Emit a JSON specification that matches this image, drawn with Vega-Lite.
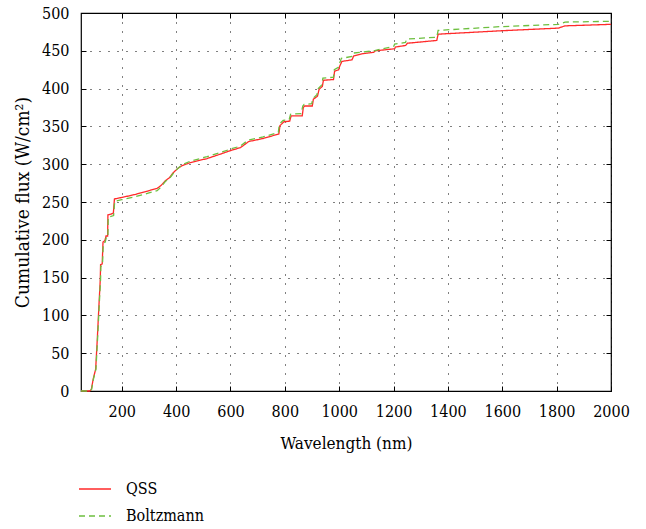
{
  "$schema": "https://vega.github.io/schema/vega-lite/v6.json",
  "width": 530,
  "height": 378,
  "autosize": "none",
  "padding": {"left": 81, "top": 13, "right": 35, "bottom": 138},
  "config": {
    "font": "DejaVu Serif Condensed",
    "view": {"stroke": "#000", "strokeWidth": 1.2},
    "axis": {
      "labelFont": "DejaVu Serif Condensed", "titleFont": "DejaVu Serif Condensed",
      "labelFontSize": 16, "titleFontSize": 17, "titleFontWeight": "normal",
      "labelColor": "#000", "titleColor": "#000",
      "domain": false, "tickColor": "#000", "tickSize": -5, "tickWidth": 1,
      "gridColor": "#000", "gridDash": [1, 8], "gridWidth": 1, "gridOpacity": 1
    },
    "legend": {
      "labelFont": "DejaVu Serif Condensed", "labelFontSize": 16, "labelColor": "#000"
    }
  },
  "data": {"values": [
    {"i":1,"s":"QSS","w":50,"f":0},{"i":2,"s":"QSS","w":82,"f":0},{"i":3,"s":"QSS","w":88,"f":2},{"i":4,"s":"QSS","w":95,"f":16},{"i":5,"s":"QSS","w":104,"f":29},{"i":6,"s":"QSS","w":110,"f":69},{"i":7,"s":"QSS","w":116,"f":113},{"i":8,"s":"QSS","w":121,"f":148},{"i":9,"s":"QSS","w":122,"f":167},{"i":10,"s":"QSS","w":128,"f":168},{"i":11,"s":"QSS","w":131,"f":197},{"i":12,"s":"QSS","w":138,"f":199},{"i":13,"s":"QSS","w":142,"f":205},{"i":14,"s":"QSS","w":148,"f":205},{"i":15,"s":"QSS","w":149,"f":233},{"i":16,"s":"QSS","w":169,"f":235},{"i":17,"s":"QSS","w":173,"f":254},{"i":18,"s":"QSS","w":200,"f":256},{"i":19,"s":"QSS","w":250,"f":260},{"i":20,"s":"QSS","w":300,"f":265},{"i":21,"s":"QSS","w":330,"f":268},{"i":22,"s":"QSS","w":345,"f":272},{"i":23,"s":"QSS","w":360,"f":278},{"i":24,"s":"QSS","w":375,"f":282},{"i":25,"s":"QSS","w":390,"f":289},{"i":26,"s":"QSS","w":405,"f":294},{"i":27,"s":"QSS","w":421,"f":298},{"i":28,"s":"QSS","w":452,"f":302},{"i":29,"s":"QSS","w":514,"f":307.5},{"i":30,"s":"QSS","w":560,"f":313},{"i":31,"s":"QSS","w":600,"f":318},{"i":32,"s":"QSS","w":637,"f":322},{"i":33,"s":"QSS","w":667,"f":330},{"i":34,"s":"QSS","w":720,"f":334},{"i":35,"s":"QSS","w":778,"f":340},{"i":36,"s":"QSS","w":782,"f":351},{"i":37,"s":"QSS","w":796,"f":356},{"i":38,"s":"QSS","w":818,"f":357},{"i":39,"s":"QSS","w":823,"f":364},{"i":40,"s":"QSS","w":864,"f":364},{"i":41,"s":"QSS","w":868,"f":375},{"i":42,"s":"QSS","w":873,"f":377},{"i":43,"s":"QSS","w":901,"f":377},{"i":44,"s":"QSS","w":905,"f":386},{"i":45,"s":"QSS","w":920,"f":390},{"i":46,"s":"QSS","w":926,"f":399},{"i":47,"s":"QSS","w":938,"f":403},{"i":48,"s":"QSS","w":942,"f":411},{"i":49,"s":"QSS","w":979,"f":412},{"i":50,"s":"QSS","w":983,"f":423},{"i":51,"s":"QSS","w":998,"f":425},{"i":52,"s":"QSS","w":1001,"f":429},{"i":53,"s":"QSS","w":1010,"f":436},{"i":54,"s":"QSS","w":1047,"f":438},{"i":55,"s":"QSS","w":1053,"f":443},{"i":56,"s":"QSS","w":1084,"f":446},{"i":57,"s":"QSS","w":1127,"f":448},{"i":58,"s":"QSS","w":1133,"f":450},{"i":59,"s":"QSS","w":1204,"f":452.7},{"i":60,"s":"QSS","w":1207,"f":455},{"i":61,"s":"QSS","w":1244,"f":457},{"i":62,"s":"QSS","w":1251,"f":460},{"i":63,"s":"QSS","w":1359,"f":463.7},{"i":64,"s":"QSS","w":1364,"f":472},{"i":65,"s":"QSS","w":1596,"f":476.5},{"i":66,"s":"QSS","w":1806,"f":480},{"i":67,"s":"QSS","w":1831,"f":483},{"i":68,"s":"QSS","w":2000,"f":485},
    {"i":101,"s":"Boltzmann","w":50,"f":0},{"i":102,"s":"Boltzmann","w":83,"f":0},{"i":103,"s":"Boltzmann","w":89,"f":2},{"i":104,"s":"Boltzmann","w":96,"f":16},{"i":105,"s":"Boltzmann","w":105,"f":29},{"i":106,"s":"Boltzmann","w":111,"f":69},{"i":107,"s":"Boltzmann","w":117,"f":113},{"i":108,"s":"Boltzmann","w":122,"f":148},{"i":109,"s":"Boltzmann","w":123,"f":165},{"i":110,"s":"Boltzmann","w":129,"f":166},{"i":111,"s":"Boltzmann","w":132,"f":195},{"i":112,"s":"Boltzmann","w":139,"f":197},{"i":113,"s":"Boltzmann","w":143,"f":203},{"i":114,"s":"Boltzmann","w":149,"f":203},{"i":115,"s":"Boltzmann","w":150,"f":230},{"i":116,"s":"Boltzmann","w":170,"f":232},{"i":117,"s":"Boltzmann","w":174,"f":251},{"i":118,"s":"Boltzmann","w":200,"f":253},{"i":119,"s":"Boltzmann","w":250,"f":257},{"i":120,"s":"Boltzmann","w":300,"f":262},{"i":121,"s":"Boltzmann","w":330,"f":265},{"i":122,"s":"Boltzmann","w":345,"f":270},{"i":123,"s":"Boltzmann","w":360,"f":277},{"i":124,"s":"Boltzmann","w":375,"f":281},{"i":125,"s":"Boltzmann","w":390,"f":288},{"i":126,"s":"Boltzmann","w":405,"f":294},{"i":127,"s":"Boltzmann","w":421,"f":299},{"i":128,"s":"Boltzmann","w":452,"f":304},{"i":129,"s":"Boltzmann","w":514,"f":310},{"i":130,"s":"Boltzmann","w":560,"f":315},{"i":131,"s":"Boltzmann","w":600,"f":320},{"i":132,"s":"Boltzmann","w":637,"f":324},{"i":133,"s":"Boltzmann","w":665,"f":332},{"i":134,"s":"Boltzmann","w":720,"f":336},{"i":135,"s":"Boltzmann","w":776,"f":342},{"i":136,"s":"Boltzmann","w":780,"f":353},{"i":137,"s":"Boltzmann","w":794,"f":358},{"i":138,"s":"Boltzmann","w":816,"f":359},{"i":139,"s":"Boltzmann","w":821,"f":366},{"i":140,"s":"Boltzmann","w":860,"f":367},{"i":141,"s":"Boltzmann","w":866,"f":377},{"i":142,"s":"Boltzmann","w":871,"f":379},{"i":143,"s":"Boltzmann","w":899,"f":380},{"i":144,"s":"Boltzmann","w":903,"f":387},{"i":145,"s":"Boltzmann","w":918,"f":392},{"i":146,"s":"Boltzmann","w":923,"f":400},{"i":147,"s":"Boltzmann","w":936,"f":405},{"i":148,"s":"Boltzmann","w":940,"f":414},{"i":149,"s":"Boltzmann","w":979,"f":415},{"i":150,"s":"Boltzmann","w":982,"f":425},{"i":151,"s":"Boltzmann","w":997,"f":428},{"i":152,"s":"Boltzmann","w":1000,"f":432},{"i":153,"s":"Boltzmann","w":1008,"f":440},{"i":154,"s":"Boltzmann","w":1047,"f":442.5},{"i":155,"s":"Boltzmann","w":1052,"f":447},{"i":156,"s":"Boltzmann","w":1127,"f":450},{"i":157,"s":"Boltzmann","w":1201,"f":456},{"i":158,"s":"Boltzmann","w":1204,"f":459},{"i":159,"s":"Boltzmann","w":1244,"f":461},{"i":160,"s":"Boltzmann","w":1248,"f":465.5},{"i":161,"s":"Boltzmann","w":1359,"f":468},{"i":162,"s":"Boltzmann","w":1364,"f":477},{"i":163,"s":"Boltzmann","w":1596,"f":482},{"i":164,"s":"Boltzmann","w":1806,"f":485},{"i":165,"s":"Boltzmann","w":1831,"f":488},{"i":166,"s":"Boltzmann","w":2000,"f":489}
  ]},
  "layer": [
    {
      "mark": {"type": "line", "strokeWidth": 1.3},
      "encoding": {
        "x": {"field": "w", "type": "quantitative",
          "scale": {"domain": [50, 2000], "nice": false, "zero": false},
          "axis": {"values": [200,400,600,800,1000,1200,1400,1600,1800,2000], "grid": true, "format": "d",
            "title": "Wavelength (nm)", "labelPadding": 17, "labelFlush": false,
            "titleY": 57, "titleBaseline": "alphabetic"}},
        "y": {"field": "f", "type": "quantitative",
          "scale": {"domain": [0, 500], "nice": false},
          "axis": {"values": [0,50,100,150,200,250,300,350,400,450,500], "grid": true, "format": "d",
            "title": "Cumulative flux (W/cm²)", "titleFontSize": 19, "labelPadding": 17, "labelFlush": false,
            "titleX": -59, "titleY": 189, "titleAngle": -90, "titleAlign": "center", "titleBaseline": "middle"}},
        "color": {"field": "s", "type": "nominal",
          "scale": {"domain": ["QSS", "Boltzmann"], "range": ["#ff2a2a", "#6dbf3f"]},
          "legend": {"title": null, "orient": "none", "legendX": 3, "legendY": 465,
            "symbolType": "M-1.6,0H1.6", "symbolSize": 400, "symbolStrokeWidth": 1.3,
            "labelOffset": 20, "rowPadding": 8, "direction": "vertical"}},
        "strokeDash": {"field": "s", "type": "nominal",
          "scale": {"domain": ["QSS", "Boltzmann"], "range": [[1, 0], [6, 4]]},
          "legend": {"title": null, "orient": "none", "legendX": 3, "legendY": 465,
            "symbolType": "M-1.6,0H1.6", "symbolSize": 400, "symbolStrokeWidth": 1.3,
            "labelOffset": 20, "rowPadding": 8, "direction": "vertical"}},
        "order": {"field": "i", "type": "quantitative"}
      }
    },
    {
      "mark": {"type": "line", "opacity": 0},
      "encoding": {
        "x": {"field": "w", "type": "quantitative",
          "axis": {"orient": "top", "values": [200,400,600,800,1000,1200,1400,1600,1800,2000],
            "labels": false, "grid": false, "title": null}},
        "y": {"field": "f", "type": "quantitative",
          "axis": {"orient": "right", "values": [0,50,100,150,200,250,300,350,400,450,500],
            "labels": false, "grid": false, "title": null}},
        "detail": {"field": "s", "type": "nominal"},
        "order": {"field": "i", "type": "quantitative"}
      }
    }
  ],
  "resolve": {"axis": {"x": "independent", "y": "independent"}}
}
